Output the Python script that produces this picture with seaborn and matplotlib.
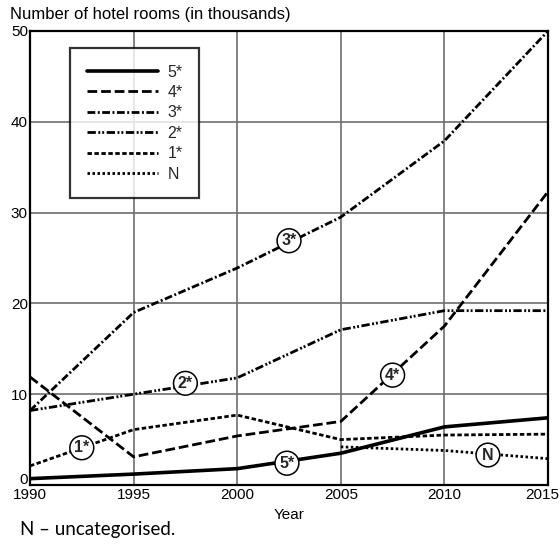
import matplotlib
matplotlib.use("Agg")
import matplotlib.pyplot as plt
import matplotlib.transforms as mtransforms
import seaborn as sns

# Values (thousands of rooms)
years = [1990, 1995, 2000, 2005, 2010, 2015]
five_star = [0.7, 1.2, 1.8, 3.5, 6.4, 7.4]
four_star = [11.9, 3.1, 5.4, 7.0, 17.5, 32.3]
three_star = [8.2, 19.0, 23.9, 29.5, 37.9, 50.0]
two_star = [8.2, 10.0, 11.8, 17.1, 19.2, 19.2]
one_star = [2.1, 6.1, 7.7, 5.0, 5.5, 5.6]
n_years = [2005, 2010, 2015]
uncategorised = [4.2, 3.8, 2.9]

series_names = ["5*", "4*", "3*", "2*", "1*", "N"]
label_spots = {
    "3*": (2002.5, 26.9),
    "2*": (1997.5, 11.2),
    "1*": (1992.5, 4.1),
    "5*": (2002.4, 2.4),
    "4*": (2007.5, 12.1),
    "N": (2012.1, 3.3),
}

sns.set_theme(style="white")
plt.rcParams["font.family"] = ["Liberation Sans", "DejaVu Sans"]

fig = plt.figure(figsize=(5.6, 5.47), dpi=100)
ax = fig.add_axes([30 / 560, 1 - 485 / 547, 518 / 560, 454 / 547])

styles = {
    "5*": dict(linestyle="-", linewidth=2.6),
    "4*": dict(linestyle=(0, (3.5, 1.4)), linewidth=2.0),
    "3*": dict(linestyle=(0, (2.8, 0.9, 0.7, 0.9)), linewidth=2.0),
    "2*": dict(linestyle=(0, (3.0, 0.9, 0.7, 0.7, 0.7, 0.9)), linewidth=2.0),
    "1*": dict(linestyle=(0, (1.6, 0.9)), linewidth=2.0),
    "N": dict(linestyle=(0, (0.9, 0.9)), linewidth=2.0),
}
data = {
    "5*": (years, five_star),
    "4*": (years, four_star),
    "3*": (years, three_star),
    "2*": (years, two_star),
    "1*": (years, one_star),
    "N": (n_years, uncategorised),
}

for name in series_names:
    xs, ys = data[name]
    sns.lineplot(x=xs, y=ys, ax=ax, color="black", label=name, zorder=3,
                 **styles[name])

ax.set_xlim(1990, 2015)
ax.set_ylim(0, 50)
ax.set_xticks(years)
ax.set_yticks([0, 10, 20, 30, 40, 50])
ax.grid(True, color="#6e6e6e", linewidth=1.2, zorder=0)
ax.set_axisbelow(True)
ax.tick_params(length=0, labelsize=11, colors="black", pad=2.5)
ax.tick_params(axis="y", pad=1.5)
for sp in ax.spines.values():
    sp.set_color("black")
    sp.set_linewidth(1.6)
    sp.set_zorder(4)

# lift the "0" label a little and pull "2015" inside the figure, as in the reference
zero_lbl = ax.get_yticklabels()[0]
zero_lbl.set_transform(zero_lbl.get_transform() +
                       mtransforms.ScaledTranslation(0, 6 / 100, fig.dpi_scale_trans))
last_lbl = ax.get_xticklabels()[-1]
last_lbl.set_transform(last_lbl.get_transform() +
                       mtransforms.ScaledTranslation(-6 / 100, 0, fig.dpi_scale_trans))

ax.set_xlabel("Year", fontsize=11, labelpad=4, color="black")
ax.set_ylabel("")

for name, (lx, ly) in label_spots.items():
    ax.text(lx, ly, name, ha="center", va="center", fontsize=11.5,
            fontweight="bold", zorder=5,
            bbox=dict(boxstyle="circle,pad=0.27", fc="white", ec="black", lw=1.1))

leg = ax.legend(loc="upper left", bbox_to_anchor=(0.077, 0.963), fontsize=11.5,
                handlelength=4.45, handletextpad=0.6, labelspacing=0.34,
                borderpad=1.05, borderaxespad=0, frameon=True, fancybox=False)
leg.get_frame().set_edgecolor("black")
leg.get_frame().set_linewidth(1.6)
leg.set_zorder(6)

fig.text(10 / 560, 1 - 15 / 547, "Number of hotel rooms (in thousands)",
         fontsize=12, ha="left", va="center", color="black")
fig.text(20 / 560, 1 - 530 / 547, "N \u2013 uncategorised.", fontsize=13.5,
         ha="left", va="center", color="black", family=["Lato", "DejaVu Sans"])

fig.savefig("out.png", dpi=100)
